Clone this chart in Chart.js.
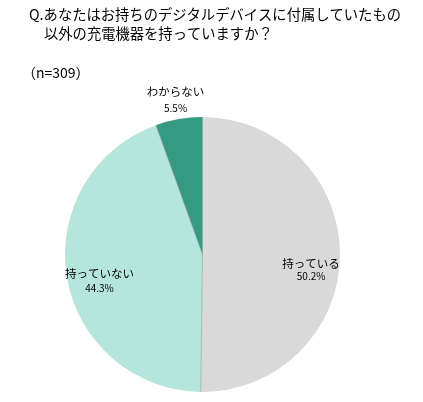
<!DOCTYPE html>
<html>
<head>
<meta charset="utf-8">
<script src="https://cdn.jsdelivr.net/npm/chart.js@4"></script>
<style>
  body { margin: 0; background: #fff; }
  canvas { display: block; }
</style>
</head>
<body>
<canvas id="grafico" width="423" height="402"></canvas>
<script>
// datos del grafico
var categorias = ['持っている', '持っていない', 'わからない'];
var valores = [50.2, 44.3, 5.5];
var colores = ['#d9d9d9', '#b5e6dc', '#349a82'];
var tituloLineas = ['Q.あなたはお持ちのデジタルデバイスに付属していたもの', '以外の充電機器を持っていますか？'];
var muestra = '（n=309）';

// posicion de las etiquetas (radio relativo y desplazamiento vertical)
var etiquetaRadio = [0.79, 0.76, 1.14];
var etiquetaDy = [15, 9, 0];
var etiquetaSep = [13, 15, 17];

var fuente = '"Noto Sans CJK JP", "Noto Sans", sans-serif';

// lineas radiales entre segmentos (sin borde exterior)
var separadores = {
  id: 'separadores',
  afterDatasetsDraw: function(chart) {
    var ctx = chart.ctx;
    var arcos = chart.getDatasetMeta(0).data;
    ctx.save();
    ctx.strokeStyle = 'rgba(150,150,150,0.55)';
    ctx.lineWidth = 1;
    for (var i = 0; i < arcos.length; i++) {
      var p = arcos[i].getProps(['x', 'y', 'startAngle', 'outerRadius'], true);
      ctx.beginPath();
      ctx.moveTo(p.x, p.y);
      ctx.lineTo(p.x + Math.cos(p.startAngle) * p.outerRadius, p.y + Math.sin(p.startAngle) * p.outerRadius);
      ctx.stroke();
    }
    ctx.restore();
  }
};

var textos = {
  id: 'textos',
  afterDraw: function(chart) {
    var ctx = chart.ctx;
    ctx.save();
    ctx.fillStyle = '#000';
    ctx.textBaseline = 'middle';
    ctx.textAlign = 'left';
    ctx.font = '14.3px ' + fuente;
    ctx.fillText(tituloLineas[0], 29, 15);
    ctx.fillText(tituloLineas[1], 44, 34);
    ctx.font = '14px ' + fuente;
    ctx.fillText(muestra, 22, 73);

    var arcos = chart.getDatasetMeta(0).data;
    ctx.textAlign = 'center';
    for (var i = 0; i < arcos.length; i++) {
      var p = arcos[i].getProps(['x', 'y', 'startAngle', 'endAngle', 'outerRadius'], true);
      var a = (p.startAngle + p.endAngle) / 2;
      var r = p.outerRadius * etiquetaRadio[i];
      var cx = p.x + Math.cos(a) * r;
      var cy = p.y + Math.sin(a) * r + etiquetaDy[i];
      ctx.font = '11.5px ' + fuente;
      ctx.fillText(categorias[i], cx, cy - etiquetaSep[i] / 2);
      ctx.font = '10px ' + fuente;
      ctx.fillText(valores[i].toFixed(1) + '%', cx, cy + etiquetaSep[i] / 2);
    }
    ctx.restore();
  }
};

var lienzo = document.getElementById('grafico').getContext('2d');
var grafico = new Chart(lienzo, {
  type: 'pie',
  data: {
    labels: categorias,
    datasets: [{
      data: valores,
      backgroundColor: colores,
      borderWidth: 0
    }]
  },
  options: {
    responsive: false,
    animation: false,
    layout: { padding: { top: 117, bottom: 10, left: 65, right: 83 } },
    plugins: {
      legend: { display: false },
      tooltip: { enabled: false }
    }
  },
  plugins: [separadores, textos]
});
</script>
</body>
</html>
